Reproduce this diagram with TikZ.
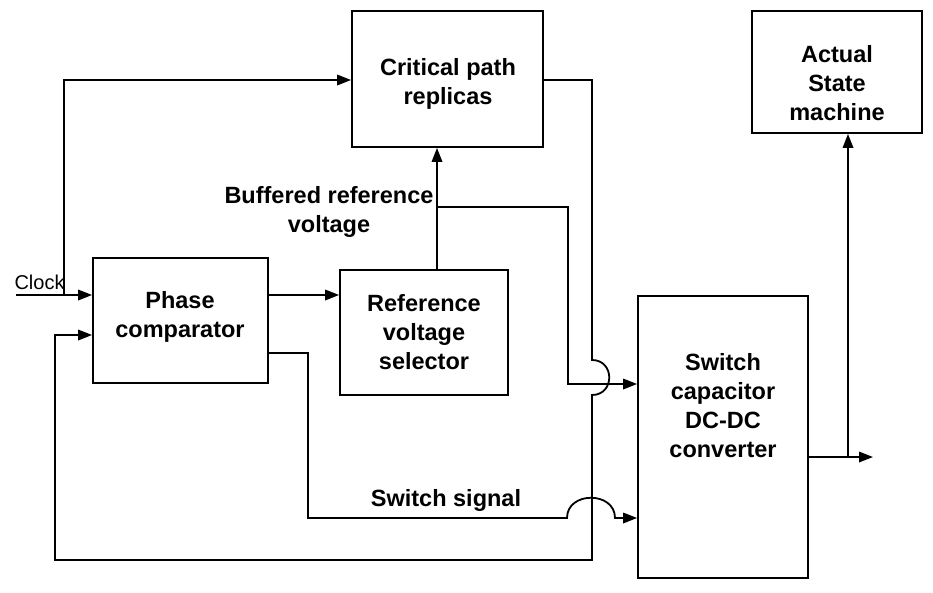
\documentclass[tikz,border=0pt]{standalone}
\usepackage{fontspec}
\setmainfont{Liberation Sans}
\usetikzlibrary{arrows.meta,calc}
\begin{document}
\begin{tikzpicture}[x=1pt,y=-1pt,
  box/.style={draw,line width=1.8pt,inner sep=0pt},
  title/.style={align=center,font=\fontsize{23.5}{29}\selectfont\bfseries},
  wire/.style={line width=1.8pt},
  arr/.style={wire,-{Triangle[length=14pt,width=10.5pt]}}]
\useasboundingbox (0,0) rectangle (933,592);

% blocks (corners in picture units)
\node[box,minimum width=191pt,minimum height=136pt] (cpr) at (447.5,79) {};
\node[box,minimum width=175pt,minimum height=125pt] (pc)  at (180.5,320.5) {};
\node[box,minimum width=168pt,minimum height=125pt] (rvs) at (424,332.5) {};
\node[box,minimum width=170pt,minimum height=282pt] (scc) at (723,437) {};
\node[box,minimum width=170pt,minimum height=122pt] (asm) at (837,72) {};

% block texts
\node[title] (cprt) at (448,84)  {Critical path\\replicas};
\node[title] (pct)  at (180,317) {Phase\\comparator};
\node[title] (rvst) at (424,332) {Reference\\voltage\\selector};
\node[title] (scct) at (723,406) {Switch\\capacitor\\DC-DC\\converter};
\node[title] (asmt) at (837,83)  {Actual\\State\\machine};

% free labels
\node[font=\fontsize{20}{24}\selectfont,anchor=base west] (clk) at (11,289) {Clock};
\node[title] (bufl) at (329,212) {Buffered reference\\voltage};
\node[title] (swl)  at (446,500) {Switch signal};

% helper points
\coordinate (cin)  at (16,295);
\coordinate (cout) at (873,457);

% clock input and branch to the replicas
\draw[arr] (cin) -- (pc.west |- cin);
\draw[arr] (64,295) -- (64,80) -- (cpr.west |- 0,80);

% phase comparator to reference selector
\draw[arr] (pc.east |- 0,295) -- (rvs.west |- 0,295);

% reference selector up to the replicas
\draw[arr] (rvs.north -| 437,0) -- (cpr.south -| 437,0);

% buffered reference voltage to the converter
\draw[arr] (437,207) -- (568,207) -- (568,384) -- (scc.west |- 0,384);

% replica output fed back to the phase comparator, hopping over the reference line
\draw[arr] (cpr.east |- 0,80) -- (592,80) -- (592,360)
  .. controls (615,360) and (615,395) .. (592,395)
  -- (592,560) -- (55,560) -- (55,335) -- (pc.west |- 0,335);

% switch signal, hopping over the feedback line
\draw[arr] (pc.east |- 0,353) -- (308,353) -- (308,518) -- (567,518)
  .. controls (567,491) and (615,491) .. (615,518) -- (scc.west |- 0,518);

% converter output and state machine
\draw[arr] (scc.east |- cout) -- (cout);
\draw[arr] (848,457) -- (asm.south -| 848,0);
\end{tikzpicture}
\end{document}
